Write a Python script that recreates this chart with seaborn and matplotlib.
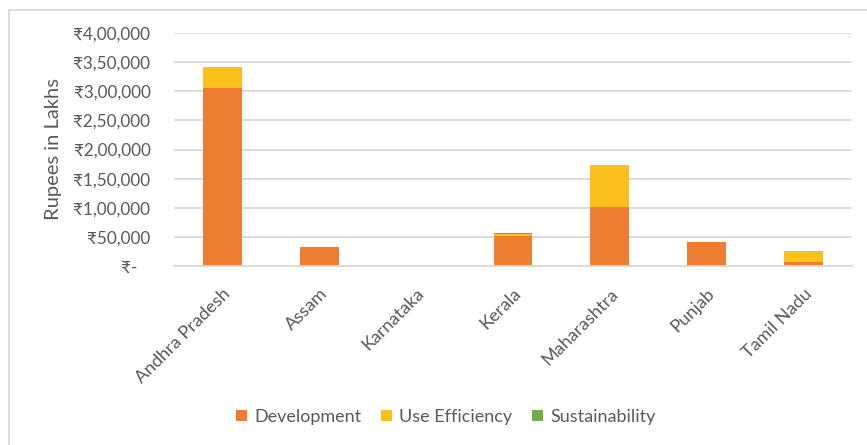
import matplotlib
matplotlib.use("Agg")
import matplotlib.pyplot as plt
import seaborn as sns
import pandas as pd
from matplotlib.patches import Patch, Rectangle

states = ["Andhra Pradesh", "Assam", "Karnataka", "Kerala", "Maharashtra", "Punjab", "Tamil Nadu"]
development = [305000, 33000, 0, 51000, 102000, 42000, 7500]
use_efficiency = [37000, 0, 0, 4500, 71500, 0, 19000]
sustainability = [0, 0, 0, 2000, 0, 0, 0]

y_ticks = [0, 50000, 100000, 150000, 200000, 250000, 300000, 350000, 400000]
y_tick_labels = ["₹-   ", "₹50,000", "₹1,00,000", "₹1,50,000", "₹2,00,000",
                 "₹2,50,000", "₹3,00,000", "₹3,50,000", "₹4,00,000"]

colors = {"Development": "#ED7D31", "Use Efficiency": "#FBBF1E", "Sustainability": "#70AD47"}
text_color = "#595959"
grid_color = "#D9D9D9"

sns.set_theme(style="white")
plt.rcParams["font.family"] = ["Lato", "DejaVu Sans"]

df = pd.DataFrame({
    "state": states,
    "dev": development,
    "eff": use_efficiency,
    "sus": sustainability,
})
df["dev_eff"] = df["dev"] + df["eff"]
df["total"] = df["dev_eff"] + df["sus"]

fig = plt.figure(figsize=(8.67, 4.45), dpi=100)
ax = fig.add_axes([174 / 867, 1 - 266 / 445, (852 - 174) / 867, (266 - 33) / 445])

# stacked bars drawn as overlapping cumulative layers
for col, name in [("total", "Sustainability"), ("dev_eff", "Use Efficiency"), ("dev", "Development")]:
    sns.barplot(data=df, x="state", y=col, color=colors[name], width=0.4,
                saturation=1, ax=ax, linewidth=0)

ax.set_ylim(0, 400000)
ax.set_yticks(y_ticks)
ax.set_yticklabels(y_tick_labels)
ax.yaxis.grid(True, color=grid_color, linewidth=1.3)
ax.set_axisbelow(True)
for side in ["left", "right", "top"]:
    ax.spines[side].set_visible(False)
ax.spines["bottom"].set_color(grid_color)
ax.spines["bottom"].set_linewidth(1.3)
ax.tick_params(axis="y", length=0, colors=text_color, labelsize=12.3, pad=17)
ax.tick_params(axis="x", length=0, colors=text_color, labelsize=13, pad=14)
for lbl in ax.get_xticklabels():
    lbl.set_rotation(45)
    lbl.set_ha("right")
    lbl.set_rotation_mode("anchor")
ax.set_xlabel("")
ax.set_ylabel("Rupees in Lakhs", color=text_color, fontsize=14.5, labelpad=8)

handles = [Patch(facecolor=colors[n], edgecolor="none", label=n)
           for n in ["Development", "Use Efficiency", "Sustainability"]]
fig.legend(handles=handles, loc="center", bbox_to_anchor=(446 / 867, 1 - 417 / 445),
           ncol=3, frameon=False, fontsize=13, labelcolor=text_color,
           handlelength=0.6, handleheight=0.6, handletextpad=0.4, columnspacing=1.1)

# chart area frame
fig.add_artist(Rectangle((9 / 867, -0.1), 1.2, (1 - 10 / 445) + 0.1, transform=fig.transFigure,
                         fill=False, edgecolor=grid_color, linewidth=1.3))

fig.savefig("out.png", dpi=100, facecolor="white")
